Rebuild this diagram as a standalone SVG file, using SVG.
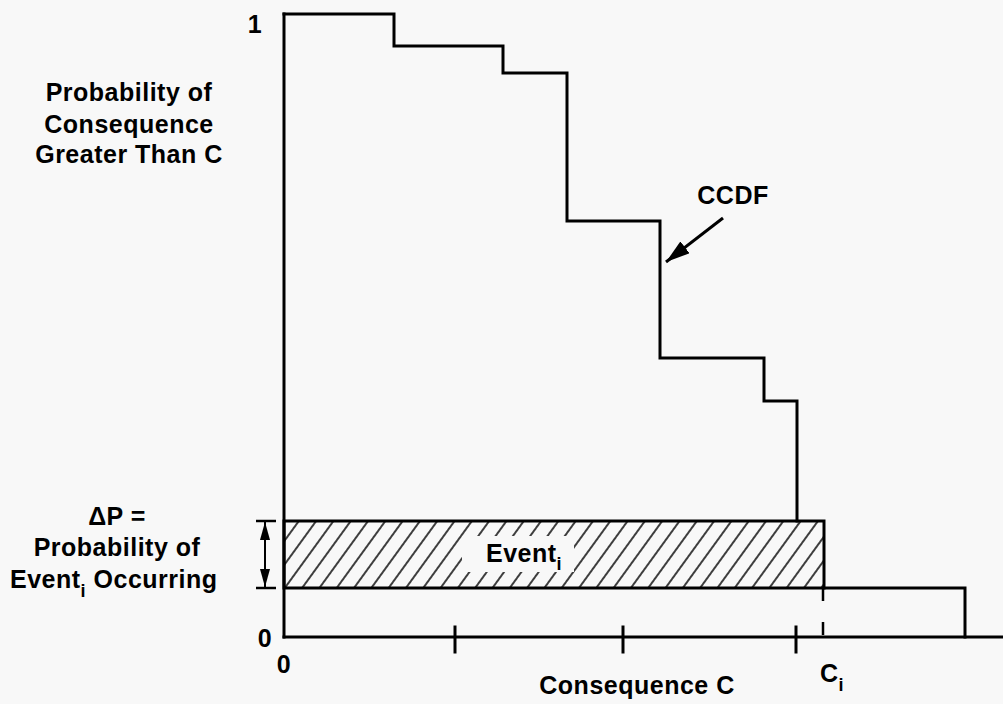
<svg xmlns="http://www.w3.org/2000/svg" width="1003" height="704" viewBox="0 0 1003 704">
<defs>
<style>
.t{font-family:"Liberation Sans",Arial,sans-serif;font-weight:bold;font-size:25px;fill:#000;letter-spacing:0.5px}
.sub{font-size:18px}
.ln{stroke:#000;stroke-width:3;fill:none;stroke-linecap:square}
</style>
<pattern id="hatch" patternUnits="userSpaceOnUse" width="14" height="14" patternTransform="rotate(36)">
<line x1="2" y1="0" x2="2" y2="14" stroke="#000" stroke-width="1.5"/>
</pattern>
<marker id="ah" viewBox="0 0 16 10" refX="16" refY="5" markerWidth="8" markerHeight="5" orient="auto" markerUnits="strokeWidth">
<path d="M0,0 L16,5 L0,10 z" fill="#000"/>
</marker>
<marker id="ah2" viewBox="0 0 18 10" refX="18" refY="5" markerWidth="9" markerHeight="5" orient="auto-start-reverse" markerUnits="strokeWidth">
<path d="M0,0 L18,5 L0,10 z" fill="#000"/>
</marker>
</defs>
<rect width="1003" height="704" fill="#f8f8f8"/>

<g id="hatched-event">
<rect x="284" y="521" width="540" height="67" fill="url(#hatch)"/>
<rect x="462" y="536" width="112" height="36" fill="#f8f8f8"/>
<rect x="284" y="521" width="540" height="67" class="ln"/>
<text class="t" x="486" y="562">Event<tspan class="sub" dy="8">i</tspan></text>
</g>

<g id="axes">
<line class="ln" x1="284" y1="637" x2="1003" y2="637"/>
<line class="ln" x1="284" y1="637" x2="284" y2="14"/>
<line class="ln" x1="455" y1="627" x2="455" y2="652"/>
<line class="ln" x1="623" y1="627" x2="623" y2="652"/>
<line class="ln" x1="796" y1="627" x2="796" y2="652"/>
<line x1="823" y1="588" x2="823" y2="637" stroke="#000" stroke-width="2.5" stroke-dasharray="13,21"/>
</g>

<g id="ccdf-curve">
<polyline class="ln" points="284,14 394,14 394,46 503,46 503,73 567,73 567,221 660,221 660,358 764,358 764,401 797,401 797,521"/>
<polyline class="ln" points="824,588 965,588 965,637"/>
</g>

<g id="connectors">
<line x1="723" y1="218" x2="666" y2="262" stroke="#000" stroke-width="3" marker-end="url(#ah)"/>
<line x1="265" y1="522" x2="265" y2="587" stroke="#000" stroke-width="2" marker-start="url(#ah2)" marker-end="url(#ah2)"/>
<line x1="256" y1="521" x2="276" y2="521" stroke="#000" stroke-width="2.5"/>
<line x1="256" y1="588" x2="276" y2="588" stroke="#000" stroke-width="2.5"/>
</g>

<g id="labels">
<text class="t" x="255" y="33" text-anchor="middle">1</text>
<text class="t" x="265" y="647" text-anchor="middle">0</text>
<text class="t" x="284" y="673" text-anchor="middle">0</text>
<text class="t" x="733" y="204" text-anchor="middle">CCDF</text>
<text class="t" x="129" y="101" text-anchor="middle">Probability of</text>
<text class="t" x="129" y="133" text-anchor="middle">Consequence</text>
<text class="t" x="129" y="163" text-anchor="middle">Greater Than C</text>
<text class="t" x="117" y="525" text-anchor="middle">ΔP =</text>
<text class="t" x="117" y="556" text-anchor="middle">Probability of</text>
<text class="t" x="10" y="588">Event<tspan class="sub" dy="9">i</tspan><tspan dy="-9"> Occurring</tspan></text>
<text class="t" x="637" y="694" text-anchor="middle">Consequence C</text>
<text class="t" x="820" y="682">C<tspan class="sub" dy="9">i</tspan></text>
</g>
</svg>
